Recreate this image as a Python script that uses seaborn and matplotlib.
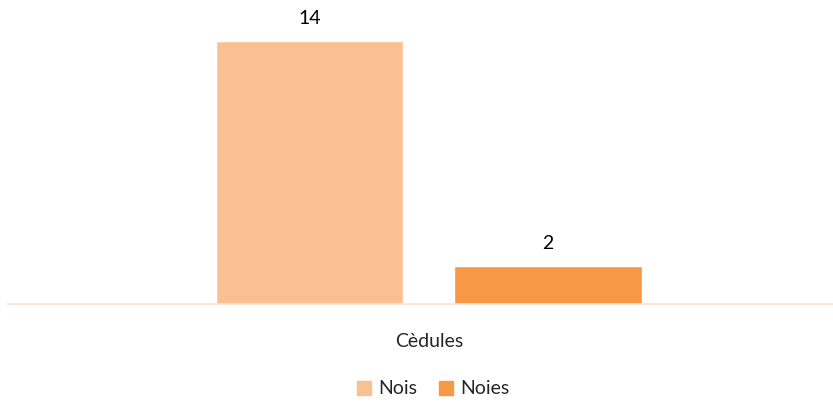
import matplotlib
matplotlib.use("Agg")
import matplotlib.pyplot as plt
import seaborn as sns
import pandas as pd
from matplotlib.patches import Patch

# Data
categories = ["Cèdules", "Cèdules"]
series = ["Nois", "Noies"]
values = [14, 2]
colors = ["#F9C191", "#F79846"]

df = pd.DataFrame({"cat": categories, "serie": series, "valor": values})

sns.set_style("white")
plt.rcParams["font.family"] = ["Lato", "DejaVu Sans"]

fig = plt.figure(figsize=(8.33, 4.03), dpi=100)
ax = fig.add_axes([8 / 833, 99 / 403, 825 / 833, 301 / 403])

sns.barplot(data=df, x="cat", y="valor", hue="serie", palette=colors,
            width=0.578, gap=0.215, saturation=1, ax=ax, legend=False)

for cont in ax.containers:
    ax.bar_label(cont, padding=10, fontsize=14, color="#000000")

ax.set_ylim(0, 16)
ax.set_xlim(-0.51, 0.49)
ax.set_yticks([])
ax.set_ylabel("")
ax.set_xlabel("")
ax.tick_params(axis="x", length=0, labelsize=14, pad=21)
for s in ["top", "left", "right"]:
    ax.spines[s].set_visible(False)
ax.spines["bottom"].set_color("#FBE3D0")
ax.spines["bottom"].set_linewidth(1.2)

handles = [Patch(color=c, label=l) for c, l in zip(colors, series)]
fig.legend(handles=handles, loc="center", bbox_to_anchor=(433 / 833, 1 - 389 / 403),
           ncol=2, frameon=False, fontsize=14, handlelength=0.75, handleheight=0.75,
           handletextpad=0.35, columnspacing=1.1)

fig.savefig("out.png", dpi=100)
